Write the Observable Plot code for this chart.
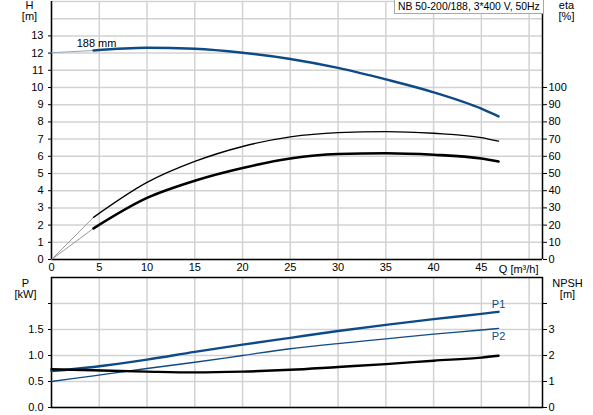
<!DOCTYPE html>
<html>
<head>
<meta charset="utf-8">
<script src="https://cdn.jsdelivr.net/npm/d3@7"></script>
<script src="https://cdn.jsdelivr.net/npm/@observablehq/plot@0.6"></script>
<style>
  body { margin: 0; background: #fff; font-family: "Liberation Sans", Arial, sans-serif; }
  #wrap { position: relative; width: 593px; height: 415px; overflow: hidden; }
  #top, #bottom { position: absolute; left: 0; }
  #top { top: 0; }
  #bottom { top: 272px; }
  #legend { position: absolute; left: 394px; top: -1px; height: 13px; border: 1px solid #a8a8a8; background: #fff;
            font-size: 10.4px; line-height: 13px; padding: 0 3px; color: #000; white-space: nowrap; }
</style>
</head>
<body>
<div id="wrap">
  <div id="top"></div>
  <div id="bottom"></div>
  <div id="legend"></div>
</div>
<script>
// ---- data ----
const q      = [0, 4.4, 10, 15, 20, 25, 30, 35, 40, 45, 46.8];   // flow Q [m³/h]
const head   = [12.02, 12.15, 12.31, 12.25, 12.02, 11.66, 11.14, 10.47, 9.72, 8.77, 8.32]; // H [m]
const etaPump= [0, 24.5, 44.8, 57.0, 65.7, 71.3, 73.8, 74.4, 73.4, 70.9, 68.8];  // eta [%]
const etaTot = [0, 18.1, 35.8, 45.8, 53.2, 58.7, 61.3, 61.8, 60.9, 58.7, 57.0];  // eta [%]
const p1     = [0.70, 0.78, 0.92, 1.07, 1.21, 1.34, 1.47, 1.59, 1.70, 1.80, 1.84]; // P1 [kW]
const p2     = [0.50, 0.61, 0.75, 0.87, 1.00, 1.13, 1.23, 1.32, 1.41, 1.49, 1.52]; // P2 [kW]
const npsh   = [1.47, 1.43, 1.38, 1.35, 1.38, 1.45, 1.56, 1.67, 1.80, 1.92, 1.99]; // NPSH [m]
const qMin   = 4.4;            // start of the recommended operating range
const curveLabel = "188 mm";
const titleText  = "NB 50-200/188, 3*400 V, 50Hz";

const qGrid     = [0, 5, 10, 15, 20, 25, 30, 35, 40, 45, 50];
const qTicks    = [0, 5, 10, 15, 20, 25, 30, 35, 40, 45];
const hTicks    = [0, 1, 2, 3, 4, 5, 6, 7, 8, 9, 10, 11, 12, 13];
const hGrid     = [0, 1, 2, 3, 4, 5, 6, 7, 8, 9, 10, 11, 12, 13, 14, 15];
const etaTicks  = [0, 10, 20, 30, 40, 50, 60, 70, 80, 90, 100];
const pTicks    = [0, 0.5, 1, 1.5, 2];
const pLabels   = ["0.0", "0.5", "1.0", "1.5", ""];
const npshTicks = [0, 1, 2, 3, 4];
const npshLabels= ["0", "1", "2", "3", ""];

const xDomain = [0, 51.4];
const hDomain = [0, 15];
const etaMax  = 150;
const pDomain = [0, 2.5];
const npshMax = 5;
const etaToH  = hDomain[1] / etaMax;
const npshToP = pDomain[1] / npshMax;

document.getElementById("legend").textContent = titleText;

const rows = q.map((v, i) => ({q: v, h: head[i], e1: etaPump[i], e2: etaTot[i], p1: p1[i], p2: p2[i], n: npsh[i]}));
const thin = rows.filter(d => d.q <= qMin);
const thick = rows.filter(d => d.q >= qMin);
const last = rows[rows.length - 1];

const blue = "#0e4a87";
const gridC = "#d2d2d2";
const font = "'Liberation Sans', Arial, sans-serif";
const curve = "monotone-x";

const topPlot = Plot.plot({
  width: 593, height: 272,
  marginLeft: 51, marginRight: 51, marginTop: 1, marginBottom: 13,
  style: {fontFamily: font, fontSize: "11px", color: "#000", background: "transparent", overflow: "visible"},
  x: {domain: xDomain},
  y: {domain: hDomain},
  marks: [
    Plot.gridX(qGrid, {stroke: gridC, strokeOpacity: 1, strokeWidth: 1.5}),
    Plot.gridY(hGrid, {stroke: gridC, strokeOpacity: 1, strokeWidth: 1.5}),
    Plot.axisX(qTicks, {tickSize: 0, tickPadding: 4, label: null, fontSize: 11}),
    Plot.axisY(hTicks, {anchor: "left", tickSize: 3, tickPadding: 5, label: null, fontSize: 11}),
    Plot.axisY(etaTicks.map(v => v * etaToH), {anchor: "right", tickSize: 4, tickPadding: 2, label: null, fontSize: 11,
      tickFormat: v => String(Math.round(v / etaToH))}),
    Plot.ruleX([xDomain[0]], {stroke: "#000", strokeWidth: 1.5}),
    Plot.ruleX([xDomain[1]], {stroke: "#000", strokeWidth: 1.5}),
    Plot.ruleY([0], {stroke: "#000", strokeWidth: 1.5}),
    // head curve
    Plot.line(thin, {x: "q", y: "h", stroke: "#8fa6bd", strokeWidth: 1, curve}),
    Plot.line(thick, {x: "q", y: "h", stroke: blue, strokeWidth: 2.4, curve}),
    // efficiency curves
    Plot.line(thin, {x: "q", y: d => d.e1 * etaToH, stroke: "#999", strokeWidth: 1, curve}),
    Plot.line(thin, {x: "q", y: d => d.e2 * etaToH, stroke: "#999", strokeWidth: 1, curve}),
    Plot.line(thick, {x: "q", y: d => d.e1 * etaToH, stroke: "#000", strokeWidth: 1.3, curve}),
    Plot.line(thick, {x: "q", y: d => d.e2 * etaToH, stroke: "#000", strokeWidth: 2.6, curve}),
    Plot.text([rows[1]], {x: "q", y: "h", text: () => curveLabel, dx: 3, dy: -7, fill: "#000", fontSize: 11, textAnchor: "middle"}),
    // axis titles
    Plot.text(["H\n[m]"], {frameAnchor: "top-left", dx: -22, dy: -1, lineAnchor: "top", lineHeight: 1.05, textAnchor: "middle", fontSize: 11, fill: "#000"}),
    Plot.text(["eta\n[%]"], {frameAnchor: "top-right", dx: 24, dy: -1, lineAnchor: "top", lineHeight: 1.05, textAnchor: "middle", fontSize: 11, fill: "#000"}),
    Plot.text(["Q [m³/h]"], {frameAnchor: "bottom-right", dx: -4, dy: 10, lineAnchor: "middle", textAnchor: "end", fontSize: 11, fill: "#000"})
  ]
});
document.getElementById("top").appendChild(topPlot);

const bottomPlot = Plot.plot({
  width: 593, height: 143,
  marginLeft: 51, marginRight: 51, marginTop: 5, marginBottom: 8,
  style: {fontFamily: font, fontSize: "11px", color: "#000", background: "transparent", overflow: "visible"},
  x: {domain: xDomain},
  y: {domain: pDomain},
  marks: [
    Plot.gridX(qGrid, {stroke: gridC, strokeOpacity: 1, strokeWidth: 1.5}),
    Plot.gridY(pTicks, {stroke: gridC, strokeOpacity: 1, strokeWidth: 1.5}),
    Plot.axisY(pTicks, {anchor: "left", tickSize: 3, tickPadding: 5, label: null, fontSize: 11,
      tickFormat: v => pLabels[pTicks.indexOf(v)]}),
    Plot.axisY(npshTicks.map(v => v * npshToP), {anchor: "right", tickSize: 4, tickPadding: 2, label: null, fontSize: 11,
      tickFormat: v => npshLabels[npshTicks.indexOf(Math.round(v / npshToP))]}),
    Plot.axisX({ticks: [], label: null}),
    Plot.frame({stroke: "#000", strokeWidth: 1.5}),
    Plot.line(rows, {x: "q", y: "p2", stroke: blue, strokeWidth: 1.3, curve}),
    Plot.line(rows, {x: "q", y: "p1", stroke: blue, strokeWidth: 2.4, curve}),
    Plot.line(rows, {x: "q", y: d => d.n * npshToP, stroke: "#000", strokeWidth: 2.4, curve}),
    Plot.text([last], {x: "q", y: "p1", text: () => "P1", dy: -7, dx: 0, fill: blue, fontSize: 11, textAnchor: "middle"}),
    Plot.text([last], {x: "q", y: "p2", text: () => "P2", dy: 8, dx: 0, fill: blue, fontSize: 11, textAnchor: "middle"}),
    Plot.text(["P\n[kW]"], {frameAnchor: "top-left", dx: -26, dy: 1, lineAnchor: "top", lineHeight: 1.05, textAnchor: "middle", fontSize: 11, fill: "#000"}),
    Plot.text(["NPSH\n[m]"], {frameAnchor: "top-right", dx: 25, dy: 1, lineAnchor: "top", lineHeight: 1.05, textAnchor: "middle", fontSize: 11, fill: "#000"})
  ]
});
document.getElementById("bottom").appendChild(bottomPlot);
</script>
</body>
</html>
